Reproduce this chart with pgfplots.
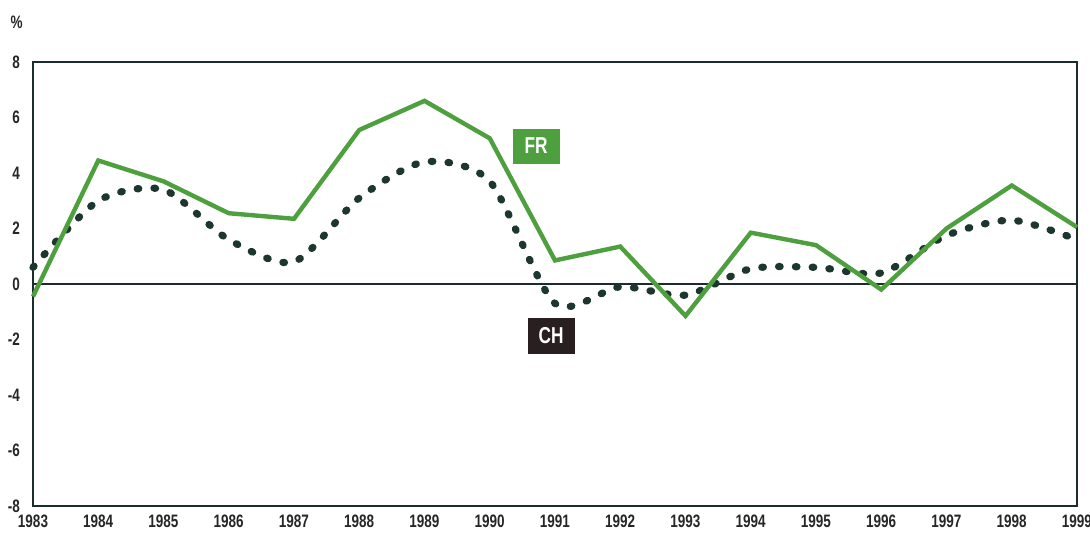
\documentclass[border=0pt]{standalone}
\usepackage{fontspec}
\setmainfont{Liberation Sans}[FakeStretch=0.75]
\usepackage{pgfplots}
\pgfplotsset{compat=1.18}
\definecolor{frgreen}{HTML}{4E9F3D}
\definecolor{chdark}{HTML}{1E3630}
\definecolor{axisdark}{HTML}{1C2B2B}
\definecolor{chbox}{HTML}{2A1F1F}

\begin{document}
\begin{tikzpicture}
\begin{axis}[name=ax, at={(0,0)}, anchor=south west,
  scale only axis, width=522pt, height=222pt,
  xmin=1983, xmax=1999, ymin=-8, ymax=8,
  xtick={1983,...,1999}, ytick={-8,-6,...,8},
  major tick length=0pt,
  axis line style={axisdark, line width=0.8pt},
  tick label style={font=\bfseries\fontsize{9}{10}\selectfont, text=black!85},
  /pgf/number format/assume math mode=true,
  xticklabel style={/pgf/number format/1000 sep={}, yshift=-1pt},
  yticklabel style={xshift=-3pt},
  clip=false]
\addplot[axisdark, line width=0.6pt, forget plot] coordinates {(1983,0) (1999,0)};
% CH, dotted
\addplot[chdark, line width=3.6pt, line cap=round, dash pattern=on 0.8pt off 7.6pt, smooth, tension=0.45]
  coordinates {(1983,0.6) (1984,3.0) (1985,3.4) (1986,1.6) (1987,0.8) (1988,3.1) (1989,4.4) (1990,3.7)
  (1991,-0.7) (1992,-0.1) (1993,-0.4) (1994,0.55) (1995,0.6) (1996,0.4) (1997,1.75) (1998,2.3) (1999,1.6)};
% FR, solid
\addplot[frgreen, line width=2.2pt, line join=miter]
  coordinates {(1983,-0.45) (1984,4.45) (1985,3.7) (1986,2.55) (1987,2.35) (1988,5.55) (1989,6.6) (1990,5.25)
  (1991,0.85) (1992,1.35) (1993,-1.15) (1994,1.85) (1995,1.4) (1996,-0.2) (1997,2.0) (1998,3.55) (1999,2.05)};
\node[fill=frgreen, text=white, font=\bfseries\fontsize{11.5}{12}\selectfont, minimum width=23.5pt, minimum height=17.5pt, inner sep=0pt]
  at (axis cs:1990.71,4.97) {FR};
\node[fill=chbox, text=white, font=\bfseries\fontsize{11.5}{12}\selectfont, minimum width=23.5pt, minimum height=18pt, inner sep=0pt]
  at (axis cs:1990.94,-1.87) {CH};
\node[font=\bfseries\fontsize{9}{10}\selectfont, text=black!85] at (axis cs:1982.75,9.44) {\%};
\end{axis}
\pgfresetboundingbox
\path[use as bounding box] (-16.5pt,-15pt) rectangle (528.5pt,253pt);
\end{tikzpicture}
\end{document}
